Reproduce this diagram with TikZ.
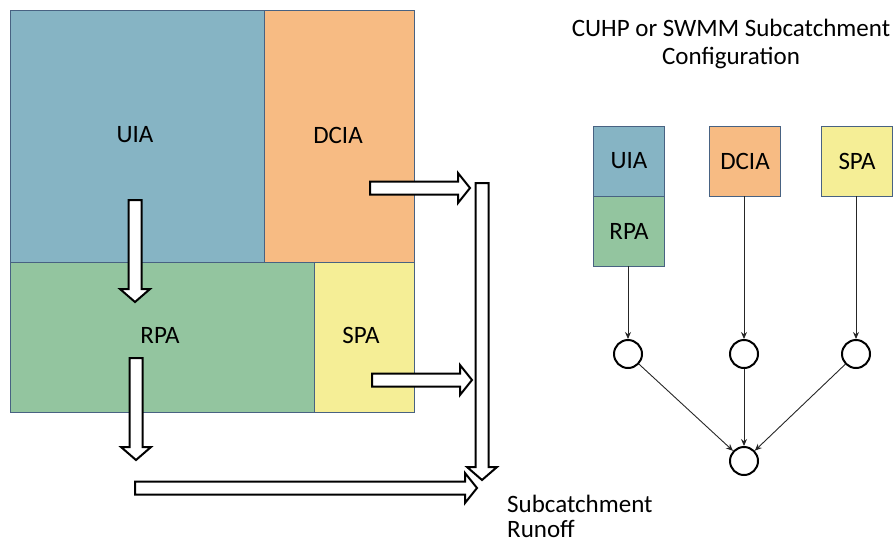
\documentclass[tikz,border=0pt]{standalone}
\usepackage{fontspec}
\setmainfont{Carlito}
\usetikzlibrary{arrows.meta}
\definecolor{uiac}{RGB}{134,180,196}
\definecolor{dciac}{RGB}{247,187,131}
\definecolor{rpac}{RGB}{147,197,159}
\definecolor{spac}{RGB}{245,238,150}
\definecolor{edgec}{RGB}{72,98,130}
\tikzset{
  area/.style={draw=edgec, line width=0.8pt},
  lbl/.style={font=\fontsize{25}{28}\selectfont, inner sep=0pt},
  blockarrow/.style={draw=black, fill=white, line width=2pt, line join=miter},
  cfgbox/.style={draw=edgec, line width=0.8pt, minimum width=71pt, minimum height=70pt, inner sep=0pt, font=\fontsize{25}{28}\selectfont},
  junc/.style={circle, draw=black, line width=2pt, minimum size=28pt, inner sep=0pt},
  link/.style={draw=black!85, line width=0.9pt, -{Stealth[length=7pt,width=6pt]}}
}
% horizontal block arrow: x start, x tip, y
\newcommand{\myHarrow}[3]{%
  \draw[blockarrow] (#1,#3-6.5) -- (#2-12,#3-6.5) -- (#2-12,#3-15) -- (#2,#3) -- (#2-12,#3+15) -- (#2-12,#3+6.5) -- (#1,#3+6.5) -- cycle;}
% vertical block arrow (down): x, y start, y tip
\newcommand{\myVarrow}[3]{%
  \draw[blockarrow] (#1-6.5,#2) -- (#1-6.5,#3-13) -- (#1-15,#3-13) -- (#1,#3) -- (#1+15,#3-13) -- (#1+6.5,#3-13) -- (#1+6.5,#2) -- cycle;}
\begin{document}
\begin{tikzpicture}[x=1pt,y=-1pt]
\useasboundingbox (0,0) rectangle (896,542);
% left panel areas
\fill[uiac] (10,10) rectangle (264,262);
\fill[dciac] (264,10) rectangle (414,262);
\fill[rpac] (10,262) rectangle (314,412);
\fill[spac] (314,262) rectangle (414,412);
\draw[area] (10,10) rectangle (264,262);
\draw[area] (264,10) rectangle (414,262);
\draw[area] (10,262) rectangle (314,412);
\draw[area] (314,262) rectangle (414,412);
\node[lbl] (uia) at (135,135) {UIA};
\node[lbl] (dcia) at (338,135) {DCIA};
\node[lbl] (rpa) at (160,335) {RPA};
\node[lbl] (spa) at (361,335) {SPA};
% block arrows
\myVarrow{135}{200}{302}
\myHarrow{370}{470}{188}
\myVarrow{482}{183}{480}
\myHarrow{372}{472}{380}
\myVarrow{136}{358}{460}
\myHarrow{135}{477}{488}
\node[anchor=west, align=left, inner sep=0pt, font=\fontsize{25}{25}\selectfont] (runoff) at (507,516) {Subcatchment\\Runoff};
% right panel
\node[lbl, align=center] (title) at (731,44) {CUHP or SWMM Subcatchment\\Configuration};
\node[cfgbox, fill=uiac] (ruia) at (629,161) {UIA};
\node[cfgbox, fill=rpac] (rrpa) at (629,231) {RPA};
\node[cfgbox, fill=dciac] (rdcia) at (745,161) {DCIA};
\node[cfgbox, fill=spac] (rspa) at (857,161) {SPA};
\node[junc] (c1) at (628,354) {};
\node[junc] (c2) at (744,354) {};
\node[junc] (c3) at (856,354) {};
\node[junc] (c4) at (744,461) {};
\draw[link] (rrpa.south -| c1) -- (c1.north);
\draw[link] (rdcia.south -| c2) -- (c2.north);
\draw[link] (rspa.south -| c3) -- (c3.north);
\draw[link] (c1) -- (c4);
\draw[link] (c2) -- (c4);
\draw[link] (c3) -- (c4);
\end{tikzpicture}
\end{document}
